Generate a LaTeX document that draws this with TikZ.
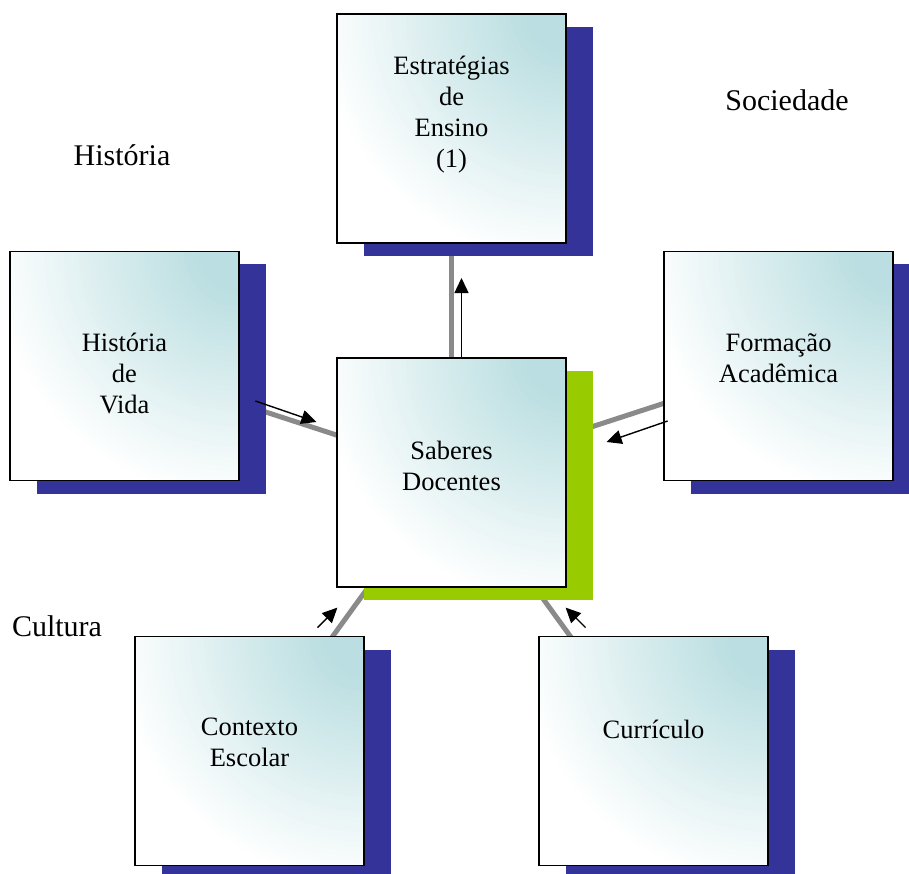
\documentclass[tikz,border=0pt]{standalone}
\usepackage{fontspec}
\setmainfont{Liberation Serif}
\usepackage{tikz}
\usetikzlibrary{shadows,backgrounds,calc,arrows.meta,positioning}

\definecolor{sombraazul}{RGB}{51,51,153}
\definecolor{sombraverde}{RGB}{153,204,0}
\definecolor{cianoclaro}{RGB}{186,222,225}
\definecolor{cinzalinha}{RGB}{138,138,138}

\tikzset{
  caixa/.style={draw=black, fill=white, line width=1.2pt, inner sep=0pt,
    minimum width=229pt, minimum height=229pt,
    path picture={
      \foreach \r [evaluate=\r as \p using {min(100,(250-\r)/2.1)}] in {250,245,...,5}
        \fill [cianoclaro!\p!white] (path picture bounding box.north east) circle (\r pt);},
    drop shadow={shadow xshift=27pt, shadow yshift=-13pt, fill=#1, opacity=1}},
  caixa/.default=sombraazul,
  texto/.style={align=center, inner sep=0pt, font=\fontsize{26.5}{31}\selectfont},
  rotulo/.style={inner sep=0pt, font=\fontsize{30}{36}\selectfont},
  linha/.style={cinzalinha, line width=5pt},
  seta/.style={-{Triangle[length=15pt,width=14pt]}, line width=1.4pt}
}

\begin{document}
\begin{tikzpicture}[x=1pt, y=-1pt]
    \useasboundingbox (0,0) rectangle (909,874);

    % Boxes
    \node [caixa] (ensino) at (451.5, 128.5) {};
    \node [caixa] (vida) at (124.5, 366) {};
    \node [caixa] (formacao) at (778.5, 366) {};
    \node [caixa=sombraverde] (saberes) at (451.5, 472.5) {};
    \node [caixa] (contexto) at (249.5, 751) {};
    \node [caixa] (curriculo) at (653.5, 751) {};

    % Box texts
    \node [texto] (t-ensino) at ([yshift=13.5pt]ensino) {Estratégias\\de\\Ensino\\(1)};
    \node [texto] (t-vida) at ([yshift=-7pt]vida) {História\\de\\Vida};
    \node [texto] (t-formacao) at ([yshift=8pt]formacao) {Formação\\Acadêmica};
    \node [texto] (t-saberes) at ([yshift=7pt]saberes) {Saberes\\Docentes};
    \node [texto] (t-contexto) at ([yshift=9pt]contexto) {Contexto\\Escolar};
    \node [texto] (t-curriculo) at ([yshift=22pt]curriculo) {Currículo};

    % Outer labels
    \node [rotulo] (historia) at (122, 155) {História};
    \node [rotulo] (sociedade) at (787, 100) {Sociedade};
    \node [rotulo] (cultura) at (57, 626) {Cultura};

    % Grey links, behind the boxes
    \begin{scope}[on background layer]
        \draw [linha] (saberes.center) -- (ensino.center);
        \draw [linha] (saberes.center) -- (vida.center);
        \draw [linha] (saberes.center) -- (formacao.center);
        \draw [linha] (saberes.center) -- (contexto.center);
        \draw [linha] (saberes.center) -- (curriculo.center);
    \end{scope}

    % Arrows
    \draw [seta] ([xshift=10pt]saberes.north) -- ([xshift=10pt]saberes.north |- 0,278);
    \draw [seta] ([shift={(-81,-71.5)}]saberes.west) -- ([shift={(-20,-50.5)}]saberes.west);
    \draw [seta] ([shift={(101,-51.5)}]saberes.east) -- ([shift={(40,-30.5)}]saberes.east);
    \draw [seta] ([shift={(-19,40)}]saberes.south west) -- ([shift={(1,20)}]saberes.south west);
    \draw [seta] ([shift={(19,40)}]saberes.south east) -- ([shift={(-1,20)}]saberes.south east);
\end{tikzpicture}
\end{document}
